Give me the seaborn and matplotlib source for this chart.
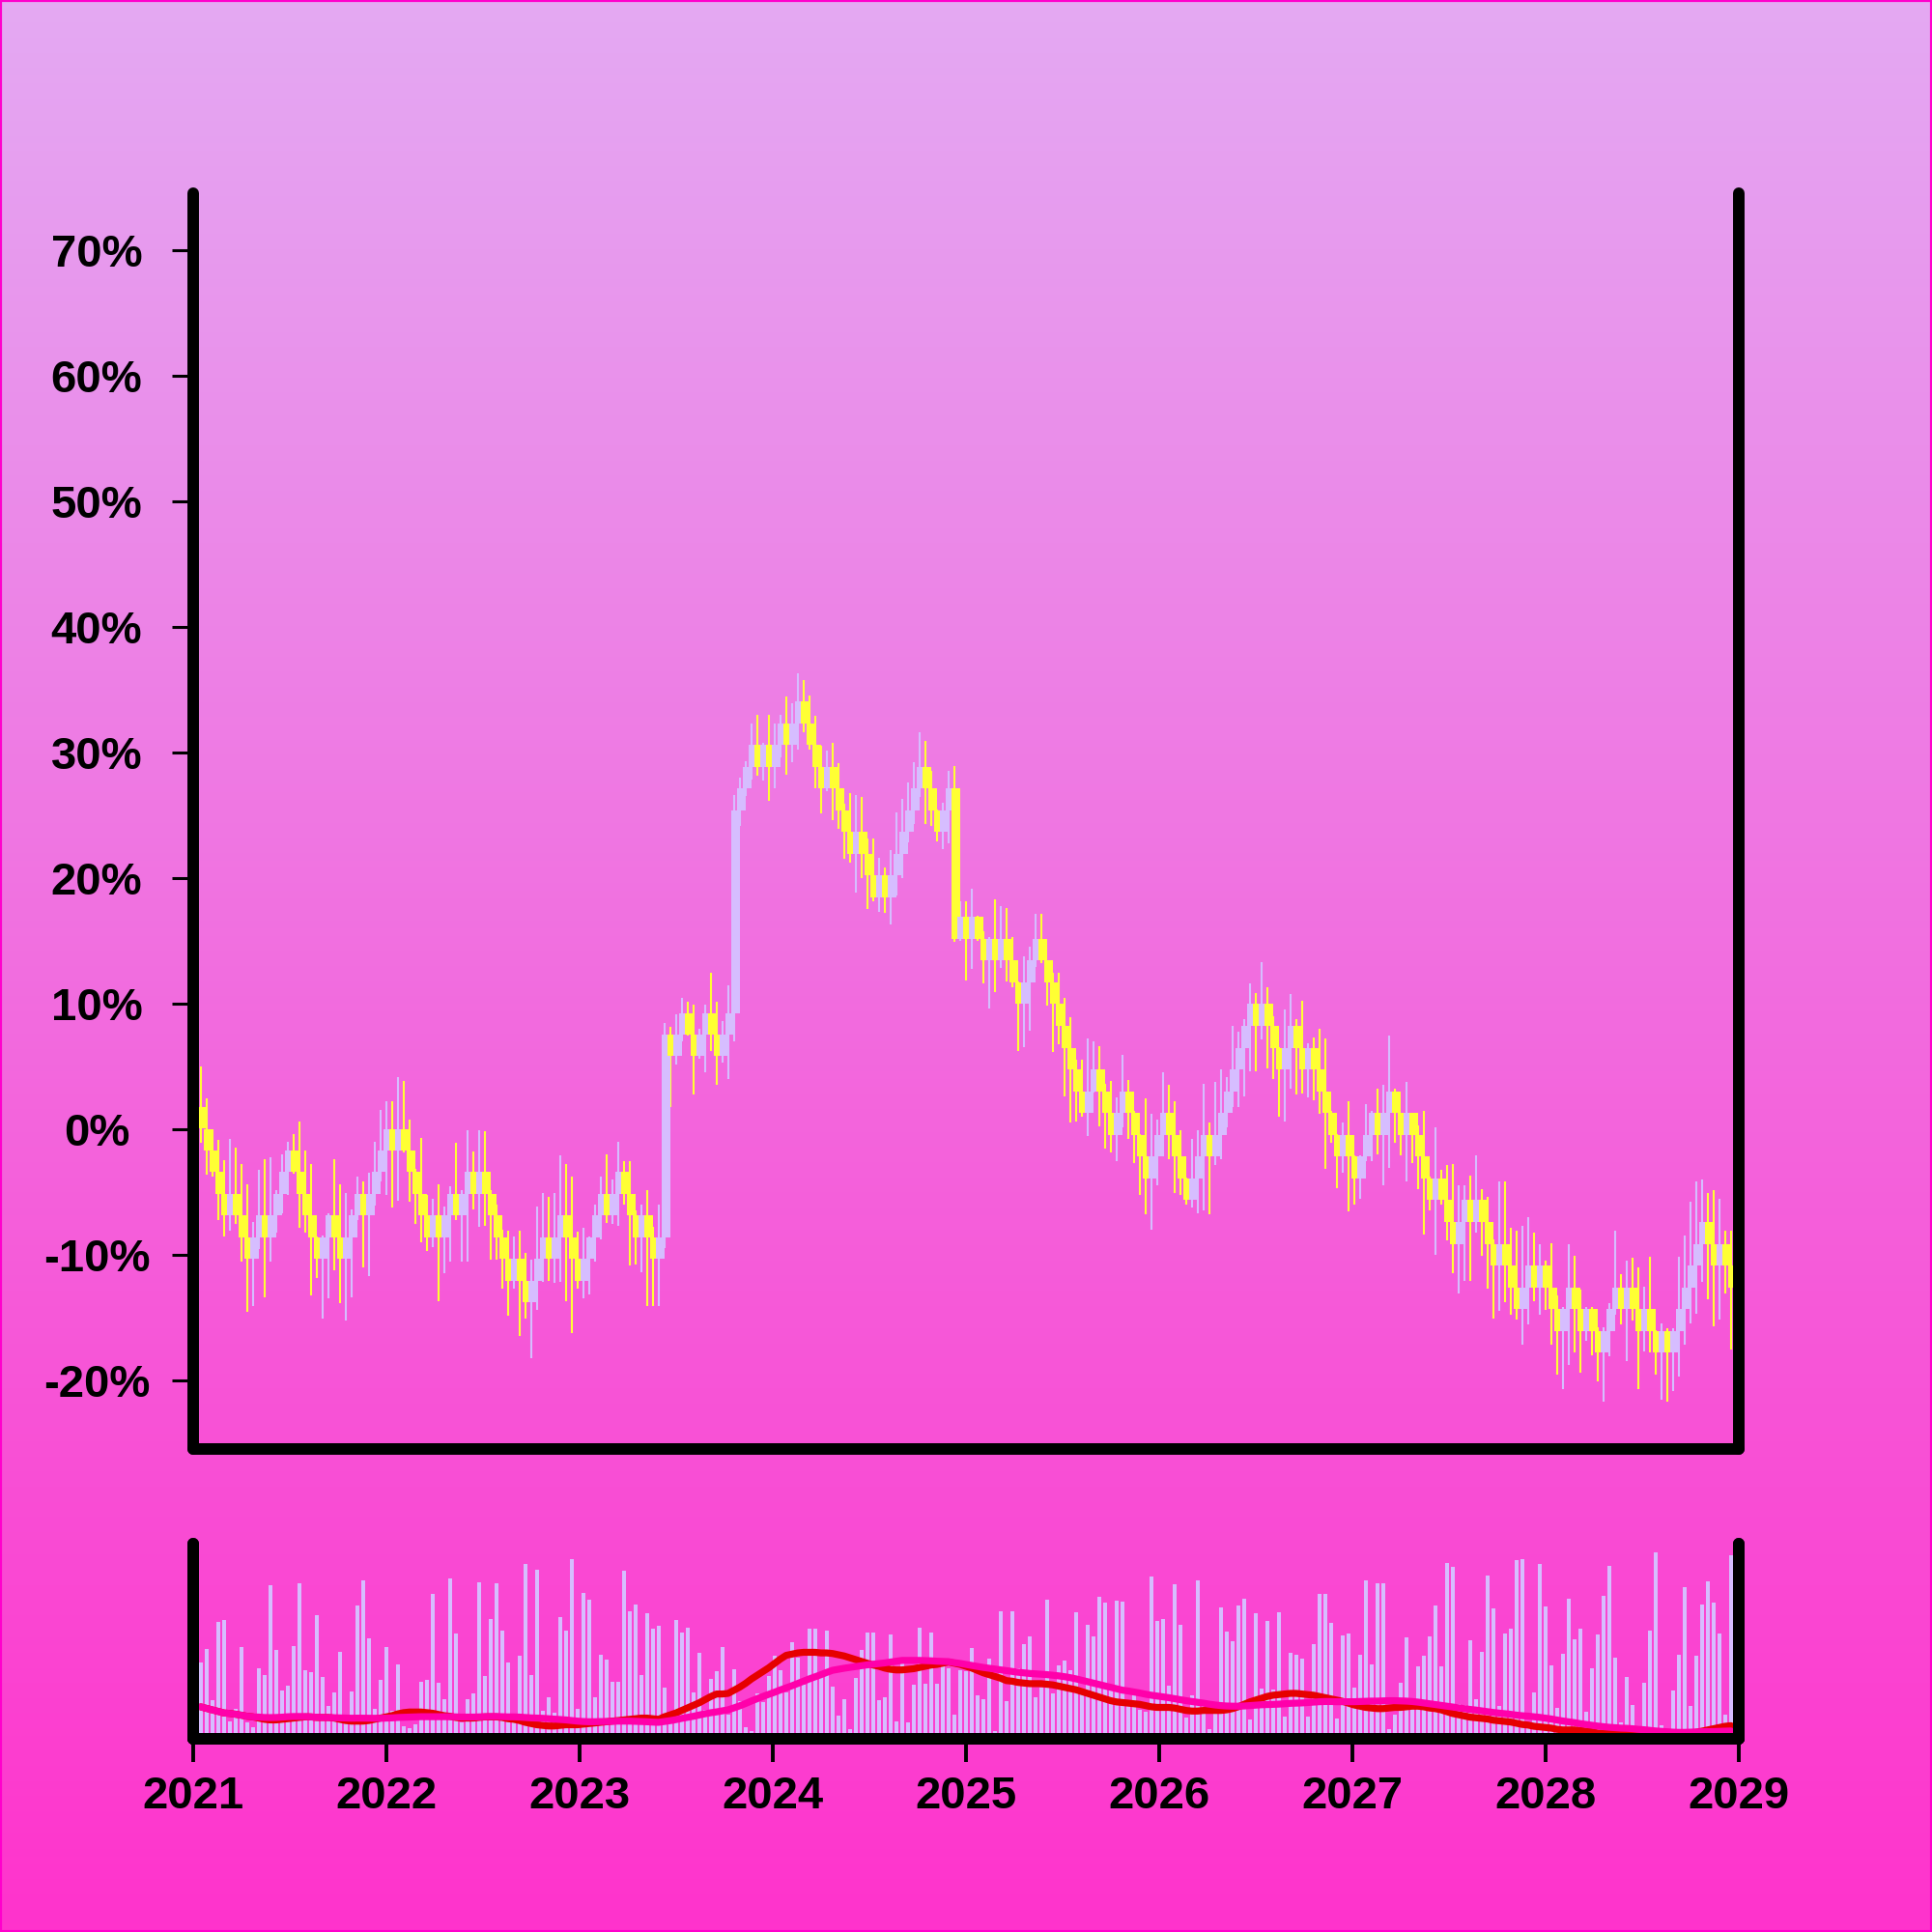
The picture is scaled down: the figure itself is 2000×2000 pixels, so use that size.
import numpy as np
import pandas as pd
import seaborn as sns
import matplotlib.pyplot as plt
from matplotlib.colors import LinearSegmentedColormap
from matplotlib.patches import Rectangle

# price bars, in % change from the first close (open of each bar = previous close)
first_open = 1.72
closes = [
    0.0, -1.73, -3.46, -5.19, -6.92, -5.19, -6.92, -8.65, -10.38, -8.65,
    -6.92, -8.65, -6.92, -5.19, -3.46, -1.73, -3.46, -5.19, -6.92, -8.65,
    -10.38, -8.65, -6.92, -8.65, -10.38, -8.65, -6.92, -5.19, -6.92, -5.19,
    -3.46, -1.73, 0.0, -1.73, 0.0, -1.73, -3.46, -5.19, -6.92, -8.65,
    -6.92, -8.65, -6.92, -5.19, -6.92, -5.19, -3.46, -5.19, -3.46, -5.19,
    -6.92, -8.65, -10.38, -12.11, -10.38, -12.11, -13.84, -12.11, -10.38, -8.65,
    -10.38, -8.65, -6.92, -8.65, -10.38, -12.11, -10.38, -8.65, -6.92, -5.19,
    -6.92, -5.19, -3.46, -5.19, -6.92, -8.65, -6.92, -8.65, -10.38, -8.65,
    7.5, 5.77, 7.5, 9.23, 7.5, 5.77, 7.5, 9.23, 7.5, 5.77,
    7.5, 9.23, 25.38, 27.11, 28.84, 30.57, 28.84, 30.57, 28.84, 30.57,
    32.30, 30.57, 32.30, 34.03, 32.30, 30.57, 28.84, 27.11, 28.84, 27.11,
    25.38, 23.65, 21.92, 23.65, 21.92, 20.19, 18.46, 20.19, 18.46, 20.19,
    21.92, 23.65, 25.38, 27.11, 28.84, 27.11, 25.38, 23.65, 25.38, 27.11,
    15.14, 16.87, 15.14, 16.87, 15.14, 13.40, 15.14, 13.40, 15.14, 13.40,
    11.67, 9.93, 11.67, 13.40, 15.14, 13.40, 11.67, 9.93, 8.20, 6.46,
    4.73, 2.99, 1.26, 2.99, 4.73, 2.99, 1.26, -0.48, 1.26, 2.99,
    1.26, -0.48, -2.22, -3.95, -2.22, -0.48, 1.26, -0.48, -2.22, -3.95,
    -5.69, -3.95, -2.22, -0.48, -2.22, -0.48, 1.26, 2.99, 4.73, 6.46,
    8.20, 9.93, 8.20, 9.93, 8.20, 6.46, 4.73, 6.46, 8.20, 6.46,
    4.73, 6.46, 4.73, 2.99, 1.26, -0.48, -2.22, -0.48, -2.22, -3.95,
    -2.22, -0.48, 1.26, -0.48, 1.26, 2.99, 1.26, -0.48, 1.26, -0.48,
    -2.22, -3.95, -5.69, -3.95, -5.69, -7.42, -9.16, -7.42, -5.69, -7.42,
    -5.69, -7.42, -9.16, -10.89, -9.16, -10.89, -12.63, -14.36, -12.63, -10.89,
    -12.63, -10.89, -12.63, -14.36, -16.10, -14.36, -12.63, -14.36, -16.10, -14.36,
    -16.10, -17.83, -16.10, -14.36, -12.63, -14.36, -12.63, -14.36, -16.10, -14.36,
    -16.10, -17.83, -16.10, -17.83, -16.10, -14.36, -12.63, -10.89, -9.16, -7.42,
    -9.16, -10.89, -9.16, -10.89, -12.63,
]
highs = [
    4.96, 2.39, 0.0, -0.9, -2.5, -0.8, -1.5, -2.8, -4.4, -7.4,
    -3.3, -2.4, -2.3, -4.9, -2.0, -1.0, -0.45, 0.57, -1.7, -2.8,
    -8.6, -8.5, -6.7, -2.4, -4.4, -5.1, -6.4, -3.8, -4.2, -3.5,
    -1.0, 1.5, 2.2, 2.2, 4.1, 3.8, 0.7, -3.2, -0.7, -5.3,
    -5.6, -4.4, -6.2, -4.6, -1.1, -4.9, -0.1, -1.8, -0.1, -0.2,
    -4.9, -6.0, -8.0, -8.1, -8.6, -8.1, -9.9, -10.4, -6.2, -5.1,
    -5.4, -5.1, -2.1, -2.8, -3.8, -8.2, -7.9, -8.6, -6.0, -3.8,
    -2.0, -4.0, -1.0, -2.6, -2.6, -6.5, -6.0, -4.9, -7.8, -6.0,
    8.4, 8.1, 9.1, 10.4, 10.1, 9.9, 8.0, 9.9, 12.4, 10.1,
    8.6, 11.4, 26.6, 28.0, 29.3, 32.3, 33.0, 30.7, 33.0, 32.3,
    33.0, 34.4, 33.9, 36.3, 35.7, 34.5, 32.9, 30.5, 30.1, 30.7,
    29.1, 25.9, 26.7, 26.6, 26.4, 23.1, 23.1, 21.6, 20.8, 22.2,
    25.2, 26.3, 27.6, 29.2, 31.6, 30.9, 28.5, 25.4, 26.0, 28.5,
    28.9, 18.1, 18.1, 19.1, 17.0, 15.7, 15.3, 18.3, 17.7, 17.6,
    15.3, 11.7, 13.7, 14.5, 17.1, 17.1, 13.4, 12.4, 12.4, 10.4,
    8.9, 5.5, 5.5, 7.2, 7.0, 6.6, 3.6, 3.8, 2.5, 5.9,
    3.9, 1.4, -0.45, 2.4, 1.2, 0.7, 4.5, 3.5, 2.2, -0.1,
    -3.9, -0.8, -0.1, 3.6, 0.5, 3.7, 4.7, 4.1, 8.2, 7.7,
    8.7, 11.6, 10.8, 13.3, 11.3, 9.0, 6.5, 9.5, 10.7, 8.7,
    10.2, 6.8, 7.3, 8.0, 7.2, 1.4, -0.4, 0.5, 2.2, -2.1,
    -2.1, 2.0, 1.4, 3.2, 3.5, 7.4, 3.2, 1.3, 3.7, 1.3,
    0.3, 1.4, -3.8, 0.1, -3.3, -2.9, -2.8, -4.5, -4.5, -3.7,
    -2.1, -4.8, -5.4, -8.8, -4.2, -4.2, -7.9, -8.1, -7.7, -7.0,
    -8.3, -9.2, -10.5, -9.1, -13.3, -14.2, -9.2, -10.1, -12.8, -14.2,
    -14.2, -15.8, -15.8, -13.9, -8.1, -11.6, -10.5, -10.3, -11.0, -12.6,
    -10.2, -16.0, -15.5, -15.9, -15.9, -10.2, -8.5, -5.8, -4.2, -4.05,
    -5.1, -4.9, -5.6, -8.1, -8.1,
]
lows = [
    -1.1, -3.64, -3.84, -7.3, -8.6, -8.1, -7.6, -10.6, -14.6, -14.1,
    -9.6, -13.4, -10.6, -8.3, -6.7, -5.3, -3.6, -7.9, -8.3, -13.3,
    -11.9, -15.1, -13.5, -11.3, -13.9, -15.3, -13.4, -7.3, -11.0, -11.7,
    -6.1, -4.2, -5.3, -6.3, -5.7, -1.9, -5.8, -7.6, -9.0, -9.7,
    -9.4, -13.7, -11.5, -10.6, -7.3, -10.6, -10.6, -6.4, -7.8, -7.7,
    -10.4, -10.4, -12.7, -14.9, -12.7, -16.5, -15.1, -18.3, -14.4, -12.2,
    -12.1, -12.3, -12.2, -13.7, -16.3, -12.7, -13.5, -13.2, -10.6, -8.8,
    -7.5, -7.6, -7.7, -6.0, -10.9, -10.8, -11.4, -14.1, -14.1, -14.1,
    -9.5, 1.7, 5.1, 7.0, 7.4, 2.7, 5.6, 4.5, 6.2, 3.5,
    5.3, 4.0, 7.0, 24.1, 26.5, 27.8, 28.1, 27.7, 26.1, 27.1,
    29.6, 28.2, 29.2, 30.2, 31.6, 30.2, 27.1, 25.1, 26.9, 24.6,
    23.9, 21.5, 21.2, 18.8, 20.0, 17.5, 18.1, 17.3, 17.2, 16.3,
    18.6, 20.0, 22.8, 24.3, 26.4, 24.3, 24.1, 22.9, 22.3, 22.7,
    14.9, 15.0, 11.8, 12.7, 15.0, 11.6, 9.6, 10.9, 12.8, 11.7,
    11.3, 6.2, 6.5, 7.8, 12.9, 13.2, 9.8, 6.1, 6.7, 2.6,
    0.5, 0.6, 0.96, -0.6, 2.9, 0.2, -1.6, -1.9, -2.6, 0.1,
    -0.8, -2.7, -5.3, -6.8, -8.0, -4.5, -2.2, -2.4, -5.1, -5.3,
    -6.0, -6.3, -6.7, -6.5, -6.8, -2.9, -2.4, 0.1, 1.7, 1.7,
    2.6, 4.6, 4.6, 7.1, 4.8, 4.0, 1.0, 0.6, 3.2, 2.75,
    2.8, 2.5, 2.3, 1.2, -3.2, -1.1, -4.7, -3.5, -6.6, -6.0,
    -5.6, -2.6, -2.6, -2.0, -4.5, -3.1, -1.1, -2.1, -4.2, -2.7,
    -4.8, -8.4, -6.5, -10.0, -6.0, -8.9, -11.5, -13.1, -12.1, -12.1,
    -8.3, -10.1, -12.7, -15.1, -14.5, -13.8, -14.8, -15.2, -17.2, -15.6,
    -13.7, -14.8, -14.4, -17.2, -19.6, -20.7, -18.8, -17.8, -19.4, -16.9,
    -18.0, -20.1, -21.7, -18.1, -14.8, -15.6, -18.5, -15.3, -20.7, -17.7,
    -17.8, -19.6, -21.6, -21.7, -20.9, -19.7, -17.2, -15.5, -14.7, -12.2,
    -13.6, -15.7, -15.2, -13.1, -17.6,
]
volumes = [
    79, 93, 40, 121, 123, 18, 31, 95, 17, 12,
    73, 66, 159, 92, 50, 55, 96, 161, 71, 69,
    128, 64, 34, 48, 90, 18, 49, 138, 164, 104,
    31, 61, 95, 29, 77, 13, 11, 15, 59, 61,
    150, 58, 41, 166, 109, 17, 41, 47, 162, 65,
    124, 161, 112, 79, 20, 86, 181, 66, 175, 29,
    43, 27, 126, 112, 186, 31, 151, 144, 43, 87,
    82, 59, 59, 174, 132, 139, 66, 130, 114, 117,
    53, 27, 123, 110, 115, 48, 89, 30, 62, 70,
    95, 25, 72, 39, 12, 8, 47, 38, 65, 86,
    71, 48, 100, 84, 56, 114, 114, 67, 112, 54,
    24, 41, 10, 63, 92, 110, 110, 40, 43, 108,
    18, 83, 17, 56, 115, 57, 110, 57, 83, 73,
    25, 71, 70, 94, 45, 41, 83, 8, 132, 39,
    132, 73, 98, 106, 43, 53, 144, 47, 76, 81,
    71, 131, 47, 118, 106, 147, 141, 55, 143, 142,
    40, 49, 30, 28, 168, 122, 124, 55, 160, 118,
    22, 45, 164, 37, 10, 35, 136, 111, 101, 138,
    145, 20, 130, 52, 122, 51, 131, 23, 89, 87,
    83, 23, 98, 150, 150, 120, 21, 107, 109, 53,
    87, 164, 77, 161, 161, 10, 25, 58, 105, 39,
    75, 86, 106, 138, 75, 182, 178, 36, 35, 102,
    41, 90, 169, 135, 34, 109, 114, 185, 186, 15,
    48, 181, 137, 76, 32, 88, 145, 103, 114, 28,
    73, 108, 148, 179, 84, 17, 64, 35, 11, 58,
    112, 193, 14, 5, 50, 87, 157, 34, 86, 139,
    163, 141, 109, 25, 190,
]

year_ticks = [2021, 2022, 2023, 2024, 2025, 2026, 2027, 2028, 2029]
pct_ticks = [-20, -10, 0, 10, 20, 30, 40, 50, 60, 70]

first_bar = 2021.039   # first bar position, in years
bar_step = 0.03        # roughly 11 days per bar

UP = '#D6BDFF'
DOWN = '#FFFF33'

n = len(closes)
df = pd.DataFrame({
    'x': first_bar + bar_step * np.arange(n),
    'open': [first_open] + closes[:-1],
    'close': closes,
    'high': highs,
    'low': lows,
    'volume': volumes,
})
df['high'] = df[['high', 'open', 'close']].max(axis=1)
df['low'] = df[['low', 'open', 'close']].min(axis=1)
df['color'] = np.where(df['close'] >= df['open'], UP, DOWN)
df['ma_fast'] = df['close'].rolling(10, min_periods=1).mean()
df['ma_slow'] = df['close'].rolling(30, min_periods=1).mean()

sns.set_theme(style='ticks')
plt.rcParams['font.family'] = ['Liberation Sans', 'DejaVu Sans']

fig = plt.figure(figsize=(10, 10), dpi=200)

# background gradient
bg = fig.add_axes([0, 0, 1, 1], zorder=-10)
cmap = LinearSegmentedColormap.from_list('bg', ['#E4A9F3', '#FF33CC'])
bg.imshow(np.linspace(0, 1, 256).reshape(-1, 1), aspect='auto', cmap=cmap,
          extent=[0, 1, 0, 1], origin='upper')
bg.axis('off')

ax = fig.add_axes([0.1, 0.25, 0.8, 0.65])
axv = fig.add_axes([0.1, 0.1, 0.8, 0.101])
twin = axv.twinx()

for a in (ax, axv, twin):
    a.set_facecolor('none')
    a.spines['top'].set_visible(False)
    for side in ('left', 'right', 'bottom'):
        sp = a.spines[side]
        sp.set_visible(True)
        sp.set_linewidth(4.3)
        sp.set_color('black')
        sp.set_capstyle('round')
    a.set_xlim(2021, 2029)

# candles
ax.vlines(df['x'], df['low'], df['high'], colors=df['color'], linewidth=0.75, zorder=1)
ax.bar(df['x'] + 0.0075, df['close'] - df['open'], bottom=df['open'], width=0.045,
       color=df['color'], linewidth=0, zorder=1.1)
ax.set_ylim(-25.5, 74.5)
ax.set_xticks([])
ax.set_yticks(pct_ticks)
ax.set_yticklabels([f'{t}%' for t in pct_ticks])
ax.tick_params(axis='y', left=True, right=False, length=8, width=1.1, pad=28,
               labelsize=17, color='black', labelcolor='black')
for lab in ax.get_yticklabels():
    lab.set_ha('center')
    lab.set_fontweight('bold')

# volume + moving averages of the close
axv.bar(df['x'], df['volume'], width=0.02, color=UP, linewidth=0)
axv.set_ylim(0, 202)
axv.set_yticks([])
axv.set_xticks(year_ticks)
axv.set_xticklabels([str(y) for y in year_ticks])
axv.tick_params(axis='x', length=8.5, width=1.4, pad=5, labelsize=17,
                color='black', labelcolor='black')
for lab in axv.get_xticklabels():
    lab.set_fontweight('bold')

sns.lineplot(data=df, x='x', y='ma_fast', ax=twin, color='#E60000', linewidth=2.6)
sns.lineplot(data=df, x='x', y='ma_slow', ax=twin, color='#FF00AA', linewidth=2.6)
twin.set_ylim(-18.2, 93)
twin.set_yticks([])
twin.set_ylabel('')
twin.set_xlabel('')
axv.set_xlabel('')

fig.patches.append(Rectangle((0, 0), 1, 1, transform=fig.transFigure, fill=False,
                             edgecolor='#FF00CC', linewidth=1.5))

fig.savefig('out.png', dpi=200)
